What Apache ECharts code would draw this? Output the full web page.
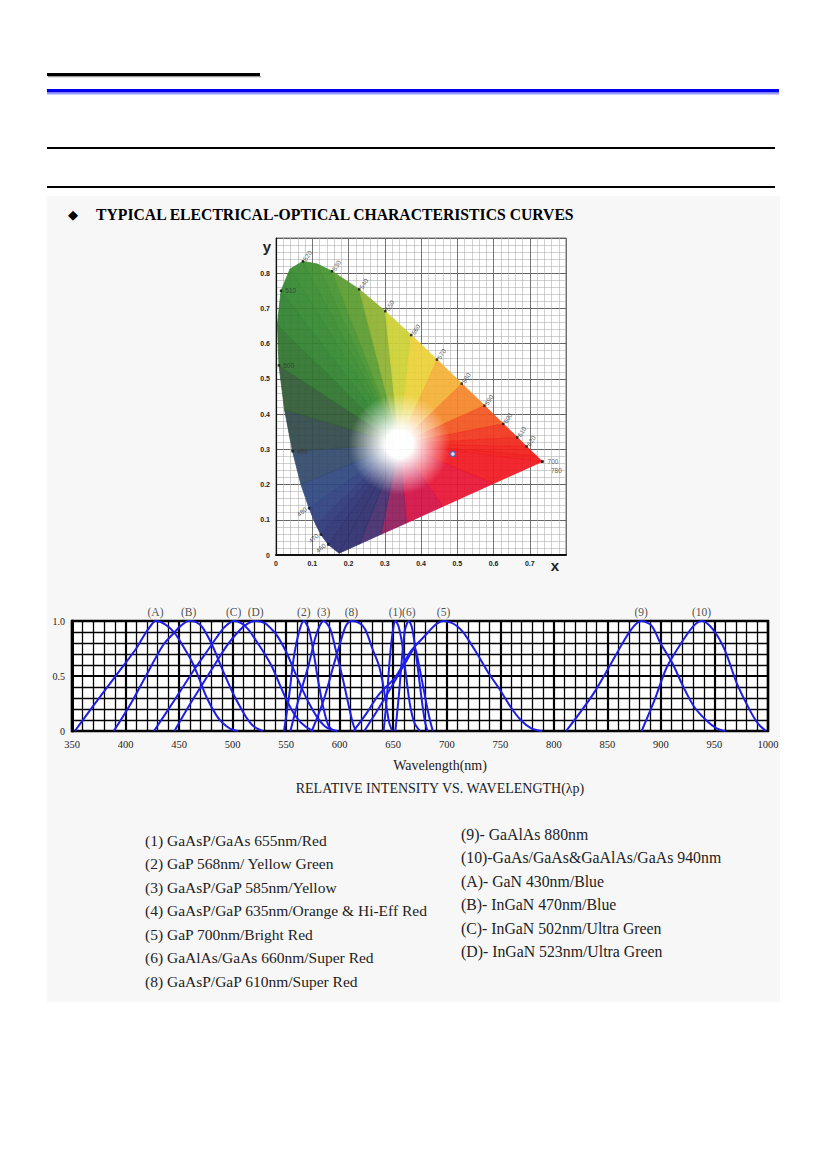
<!DOCTYPE html>
<html><head><meta charset="utf-8">
<script src="https://cdn.jsdelivr.net/npm/echarts/dist/echarts.min.js"></script>
<style>
html,body{margin:0;padding:0;background:#fff;}
#bg{position:absolute;left:47px;top:196px;width:733px;height:806px;background:#f7f7f7;}
#chart{position:absolute;left:0;top:0;width:826px;height:1169px;}
</style></head><body>
<div id="bg"></div><div id="chart"></div>
<script>
// ---------- Relative intensity vs wavelength ----------
const xTicks = [350,400,450,500,550,600,650,700,750,800,850,900,950,1000];
const curveA = [[352.7,0],[370,0.23],[390,0.49],[410,0.75],[418,0.88],[423,0.95],[428,1.0],[437,0.97],[446,0.89],[455,0.75],[461,0.65],[467,0.52],[476,0.3],[485,0.14],[491,0.07],[498,0.02],[505,0]];
const curveB = [[389,0],[405,0.25],[419,0.5],[435,0.78],[446,0.9],[452,0.96],[459,1.0],[466,0.99],[472,0.94],[481,0.78],[490,0.57],[500,0.35],[507,0.22],[513,0.12],[520,0.04],[528,0]];
const curveC = [[426.6,0],[445,0.27],[465,0.57],[478,0.75],[485,0.85],[492,0.94],[501,1.0],[508,0.98],[515,0.92],[522,0.82],[530,0.7],[537,0.58],[545,0.4],[552,0.25],[560,0.12],[568,0.04],[575,0]];
const curveD = [[445.7,0],[460,0.24],[471.5,0.42],[485,0.63],[495,0.78],[505,0.9],[513,0.97],[521.5,1.0],[530,0.98],[537,0.92],[542,0.86],[550,0.72],[557,0.56],[565,0.38],[572,0.24],[580,0.11],[588,0.03],[598,0]];
const curve2 = [[548,0],[552.5,0.3],[557,0.66],[562,0.9],[566.5,1.0],[571,0.93],[575.5,0.72],[580,0.45],[585,0.2],[589.5,0.05],[594,0]];
const curve3 = [[554,0],[562,0.3],[571,0.6],[577,0.84],[581,0.95],[585,1.0],[591,0.93],[596,0.75],[603,0.47],[608,0.25],[612,0.08],[615,0]];
const curve8 = [[574,0],[585,0.28],[595,0.62],[602,0.85],[606,0.96],[611,1.0],[618.5,0.98],[624,0.92],[630.5,0.75],[636.5,0.6],[640,0.45],[643,0.27],[646,0.085],[649,0]];
const curve1 = [[641,0],[644,0.3],[647,0.68],[649.5,0.9],[652,1.0],[655,0.95],[658.5,0.78],[662,0.5],[666,0.22],[670,0.07],[675,0]];
const curve6 = [[652,0],[655.5,0.35],[658.5,0.7],[661,0.92],[664.5,1.0],[667.5,0.94],[671,0.72],[674.5,0.45],[677.5,0.22],[680,0.07],[682,0]];
const curve4 = [[623,0],[636,0.2],[650,0.43],[662,0.63],[670,0.75],[674,0.6],[678,0.4],[682,0.2],[685,0.07],[687,0]];
const curve5 = [[613,0],[625,0.16],[636.5,0.33],[652,0.49],[666,0.72],[680,0.87],[690,0.97],[697,1.0],[704,0.985],[710,0.95],[716,0.89],[728.5,0.7],[737.5,0.55],[750,0.37],[759.5,0.22],[769,0.1],[779,0.024],[789,0]];
const curve9 = [[811.5,0],[837,0.34],[859,0.71],[872,0.92],[881.5,1.0],[891,0.96],[899.5,0.8],[910.5,0.62],[921,0.4],[931,0.22],[942,0.1],[952,0.024],[960,0]];
const curve10 = [[882,0],[894,0.28],[905.5,0.58],[921,0.83],[931,0.96],[938,1.0],[948,0.93],[959.5,0.74],[971,0.43],[983,0.19],[990.5,0.07],[998,0]];
const peakNames = ['(A)','(B)','(C)','(D)','(2)','(3)','(8)','(1)','(6)','(5)','(9)','(10)'];
const peakWl    = [428,459,501,521.5,566.5,585,611,652,664.5,697,881.5,938];

// ---------- CIE 1931 chromaticity diagram ----------
const locusWl = [380,460,470,475,480,485,490,495,500,505,510,515,520,525,530,540,550,560,570,580,590,600,610,620,640,700];
const locusX  = [0.1741,0.1440,0.1241,0.1096,0.0913,0.0687,0.0454,0.0235,0.0082,0.0039,0.0139,0.0389,0.0743,0.1142,0.1547,0.2296,0.3016,0.3731,0.4441,0.5125,0.5752,0.6270,0.6658,0.6915,0.7190,0.7347];
const locusY  = [0.0050,0.0297,0.0578,0.0868,0.1327,0.2007,0.2950,0.4127,0.5384,0.6548,0.7502,0.8120,0.8338,0.8262,0.8059,0.7543,0.6923,0.6245,0.5547,0.4866,0.4242,0.3725,0.3340,0.3083,0.2809,0.2653];
const purpleX = [0.60,0.46,0.36,0.29,0.23];
const purpleY = [0.203,0.138,0.091,0.059,0.031];
const whitePoint = [0.34,0.315];
const markerPoint = [0.488,0.287];
const markWl = [460,470,480,490,500,510,520,530,540,550,560,570,580,590,600,610,620,700,780];

// colours (style only)
const locusFill = ['#2b2d6b','#2b2f70','#2c3474','#2d3a7a','#2e4382','#2f4a7c','#33475a','#2f4a38','#2e6a2e','#2e7d2e','#2f852f','#348a30','#3a8c30','#3f9030','#4a962e','#6aa232','#b4c230','#e6df38','#f2c23a','#f5a032','#f46a22','#f2401e','#f02c1c','#f0221a','#f01a1a','#f01818'];
const purpleFill = ['#ef1828','#e01040','#c8104a','#5a2a6c','#2e2e6e'];

const polyX = locusX.concat(purpleX);
const polyY = locusY.concat(purpleY);
const polyFill = locusFill.concat(purpleFill);

function hex(c){return [parseInt(c.substr(1,2),16),parseInt(c.substr(3,2),16),parseInt(c.substr(5,2),16)];}
function mix(a,b){const p=hex(a),q=hex(b);return 'rgb('+Math.round((p[0]+q[0])/2)+','+Math.round((p[1]+q[1])/2)+','+Math.round((p[2]+q[2])/2)+')';}

const serif = '"Liberation Serif","Times New Roman",serif';
const sans = '"Liberation Sans",Arial,sans-serif';
const BLUE = '#1e1ee8';

function lineSeries(name, data){
  return {name:name, type:'line', xAxisIndex:1, yAxisIndex:1, data:data, smooth:0.3, showSymbol:false,
    lineStyle:{color:BLUE, width:2}, z:5, silent:true};
}

const markData = markWl.map(function(w){
  let i = locusWl.indexOf(w); if (i < 0) i = locusWl.length-1;
  return [locusX[i], locusY[i], w];
});
function markLabel(w){
  if (w === 780) return {position:'bottom', offset:[14,2], rotate:0};
  if (w === 700) return {position:'right', rotate:0, offset:[2,0]};
  if (w >= 520) return {position:'right', rotate:58, offset:[0,-2]};
  if (w >= 490) return {position:'right', rotate:0, offset:[1,0]};
  return {position:'left', rotate:40, offset:[0,0]};
}

const chart = echarts.init(document.getElementById('chart'), null, {renderer:'svg'});
chart.setOption({
  animation:false,
  backgroundColor:'transparent',
  grid:[
    {left:276, top:238, width:290, height:317, show:true, backgroundColor:'#ffffff', borderColor:'#777', borderWidth:1},
    {left:72, top:621, width:696, height:110, show:true, backgroundColor:'#ffffff', borderColor:'#000', borderWidth:2.5}
  ],
  xAxis:[
    {gridIndex:0, type:'value', min:0, max:0.8, interval:0.1,
     axisLine:{show:true, onZero:false, lineStyle:{color:'#111', width:2}}, axisTick:{show:false},
     axisLabel:{margin:5, fontSize:7, fontWeight:'bold', fontFamily:sans, color:'#222',
       formatter:function(v){ if (v>0.75) return ''; return v===0?'0':v.toFixed(1);}},
     splitLine:{show:true, lineStyle:{color:'#666', width:0.9}},
     minorTick:{show:false, splitNumber:5}, minorSplitLine:{show:true, lineStyle:{color:'#b0b0b0', width:0.6}}},
    {gridIndex:1, type:'value', min:350, max:1000, interval:50,
     axisLine:{show:true, onZero:false, lineStyle:{color:'#000', width:2}}, axisTick:{show:false},
     axisLabel:{margin:8, fontSize:10.5, fontFamily:serif, color:'#222',
       formatter:function(v){ return String(v); }},
     splitLine:{show:true, lineStyle:{color:'#000', width:2.2}},
     minorTick:{show:false, splitNumber:5}, minorSplitLine:{show:true, lineStyle:{color:'#000', width:1.3}}}
  ],
  yAxis:[
    {gridIndex:0, type:'value', min:0, max:0.9, interval:0.1,
     axisLine:{show:true, onZero:false, lineStyle:{color:'#111', width:1.2}}, axisTick:{show:false},
     axisLabel:{margin:6, fontSize:7, fontWeight:'bold', fontFamily:sans, color:'#222',
       formatter:function(v){ if (v>0.85) return ''; return v===0?'0':v.toFixed(1);}},
     splitLine:{show:true, lineStyle:{color:'#555', width:0.9}},
     minorTick:{show:false, splitNumber:5}, minorSplitLine:{show:true, lineStyle:{color:'#b0b0b0', width:0.6}}},
    {gridIndex:1, type:'value', min:0, max:1, interval:0.5,
     axisLine:{show:true, onZero:false, lineStyle:{color:'#000', width:3}}, axisTick:{show:false},
     axisLabel:{margin:7, fontSize:10, fontFamily:serif, color:'#222',
       formatter:function(v){ return v===1?'1.0':(v===0?'0':String(v)); }},
     splitLine:{show:true, lineStyle:{color:'#000', width:2}},
     minorTick:{show:false, splitNumber:5}, minorSplitLine:{show:true, lineStyle:{color:'#000', width:1.3}}}
  ],
  series:[
    {type:'custom', xAxisIndex:0, yAxisIndex:0, silent:true, clip:false, z:2,
     data: polyX.map(function(x,i){return [x, polyY[i]];}),
     encode:{x:0, y:1},
     renderItem:function(params, api){
       const i = params.dataIndex, n = polyX.length, j = (i+1)%n;
       const w = api.coord(whitePoint);
       const a = api.coord([polyX[i], polyY[i]]);
       const b = api.coord([polyX[j], polyY[j]]);
       const c = mix(polyFill[i], polyFill[j]);
       const grad = {type:'radial', x:w[0], y:w[1], r:105, global:true,
         colorStops:[{offset:0,color:'#ffffff'},{offset:0.13,color:'#ffffff'},{offset:0.48,color:c},{offset:1,color:c}]};
       return {type:'polygon', shape:{points:[w,a,b]}, style:{fill:grad, stroke:grad, lineWidth:0.8, opacity:0.93}};
     }},
    {type:'scatter', xAxisIndex:0, yAxisIndex:0, silent:true, z:4,
     data: markData.map(function(d){ return {value:d, label:markLabel(d[2])}; }),
     symbol:'rect', symbolSize:2.5, itemStyle:{color:'#111'},
     label:{show:true, fontSize:6.5, fontFamily:sans, color:'#333', distance:2,
       formatter:function(p){ return p.value[2]; }}},
    {type:'scatter', xAxisIndex:0, yAxisIndex:0, silent:true, z:4,
     data:[markerPoint], symbol:'circle', symbolSize:5,
     itemStyle:{color:'#ffffff', borderColor:'#3a64c8', borderWidth:1.5}},
    lineSeries('(A)', curveA), lineSeries('(B)', curveB), lineSeries('(C)', curveC), lineSeries('(D)', curveD),
    lineSeries('(2)', curve2), lineSeries('(3)', curve3), lineSeries('(8)', curve8),
    lineSeries('(1)', curve1), lineSeries('(6)', curve6), lineSeries('(4)', curve4), lineSeries('(5)', curve5),
    lineSeries('(9)', curve9), lineSeries('(10)', curve10),
    {type:'scatter', xAxisIndex:1, yAxisIndex:1, silent:true, z:6, symbolSize:0,
     data: peakWl.map(function(w){ return [w, 1]; }),
     label:{show:true, position:'top', distance:3, fontSize:11.5, fontFamily:serif, color:'#222',
       formatter:function(p){ return peakNames[p.dataIndex]; }}}
  ],
  graphic:[
    {type:'rect', shape:{x:47, y:73, width:213, height:3}, style:{fill:'#000'}},
    {type:'rect', shape:{x:48, y:76, width:213, height:1.2}, style:{fill:'#999'}},
    {type:'rect', shape:{x:47, y:89, width:732, height:3.5}, style:{fill:'#0000ee'}},
    {type:'rect', shape:{x:47, y:93, width:732, height:1.5}, style:{fill:'#9c9cff'}},
    {type:'rect', shape:{x:47, y:147, width:728, height:2}, style:{fill:'#000'}},
    {type:'rect', shape:{x:47, y:186, width:728, height:2}, style:{fill:'#000'}},
    {type:'text', style:{text:'\u25C6', x:73, y:214, font:'13px '+sans, fill:'#000', align:'center', verticalAlign:'middle'}},
    {type:'text', style:{text:'TYPICAL ELECTRICAL-OPTICAL CHARACTERISTICS CURVES', x:96, y:214, font:'bold 15.7px '+serif, fill:'#000', align:'left', verticalAlign:'middle'}},
    {type:'text', style:{text:'y', x:267, y:246, font:'bold 15px '+sans, fill:'#222', align:'center', verticalAlign:'middle'}},
    {type:'text', style:{text:'x', x:555, y:565, font:'bold 15px '+sans, fill:'#222', align:'center', verticalAlign:'middle'}},
    {type:'text', style:{text:'Wavelength(nm)', x:440, y:765, font:'14px '+serif, fill:'#222', align:'center', verticalAlign:'middle'}},
    {type:'text', style:{text:'RELATIVE INTENSITY VS. WAVELENGTH(\u03BBp)', x:440, y:788, font:'14px '+serif, fill:'#222', align:'center', verticalAlign:'middle'}},
    {type:'text', style:{text:'(1) GaAsP/GaAs 655nm/Red', x:145, y:840, font:'15.5px '+serif, fill:'#222', align:'left', verticalAlign:'middle'}},
    {type:'text', style:{text:'(2) GaP 568nm/ Yellow Green', x:145, y:863, font:'15.5px '+serif, fill:'#222', align:'left', verticalAlign:'middle'}},
    {type:'text', style:{text:'(3) GaAsP/GaP 585nm/Yellow', x:145, y:887, font:'15.5px '+serif, fill:'#222', align:'left', verticalAlign:'middle'}},
    {type:'text', style:{text:'(4) GaAsP/GaP 635nm/Orange & Hi-Eff Red', x:145, y:910, font:'15.5px '+serif, fill:'#222', align:'left', verticalAlign:'middle'}},
    {type:'text', style:{text:'(5) GaP 700nm/Bright Red', x:145, y:934, font:'15.5px '+serif, fill:'#222', align:'left', verticalAlign:'middle'}},
    {type:'text', style:{text:'(6) GaAlAs/GaAs 660nm/Super Red', x:145, y:957, font:'15.5px '+serif, fill:'#222', align:'left', verticalAlign:'middle'}},
    {type:'text', style:{text:'(8) GaAsP/GaP 610nm/Super Red', x:145, y:981, font:'15.5px '+serif, fill:'#222', align:'left', verticalAlign:'middle'}},
    {type:'text', style:{text:'(9)- GaAlAs 880nm', x:461, y:834, font:'15.8px '+serif, fill:'#222', align:'left', verticalAlign:'middle'}},
    {type:'text', style:{text:'(10)-GaAs/GaAs&GaAlAs/GaAs 940nm', x:461, y:857, font:'15.8px '+serif, fill:'#222', align:'left', verticalAlign:'middle'}},
    {type:'text', style:{text:'(A)- GaN 430nm/Blue', x:461, y:881, font:'15.8px '+serif, fill:'#222', align:'left', verticalAlign:'middle'}},
    {type:'text', style:{text:'(B)- InGaN 470nm/Blue', x:461, y:904, font:'15.8px '+serif, fill:'#222', align:'left', verticalAlign:'middle'}},
    {type:'text', style:{text:'(C)- InGaN 502nm/Ultra Green', x:461, y:928, font:'15.8px '+serif, fill:'#222', align:'left', verticalAlign:'middle'}},
    {type:'text', style:{text:'(D)- InGaN 523nm/Ultra Green', x:461, y:951, font:'15.8px '+serif, fill:'#222', align:'left', verticalAlign:'middle'}}
  ]
});
</script></body></html>
